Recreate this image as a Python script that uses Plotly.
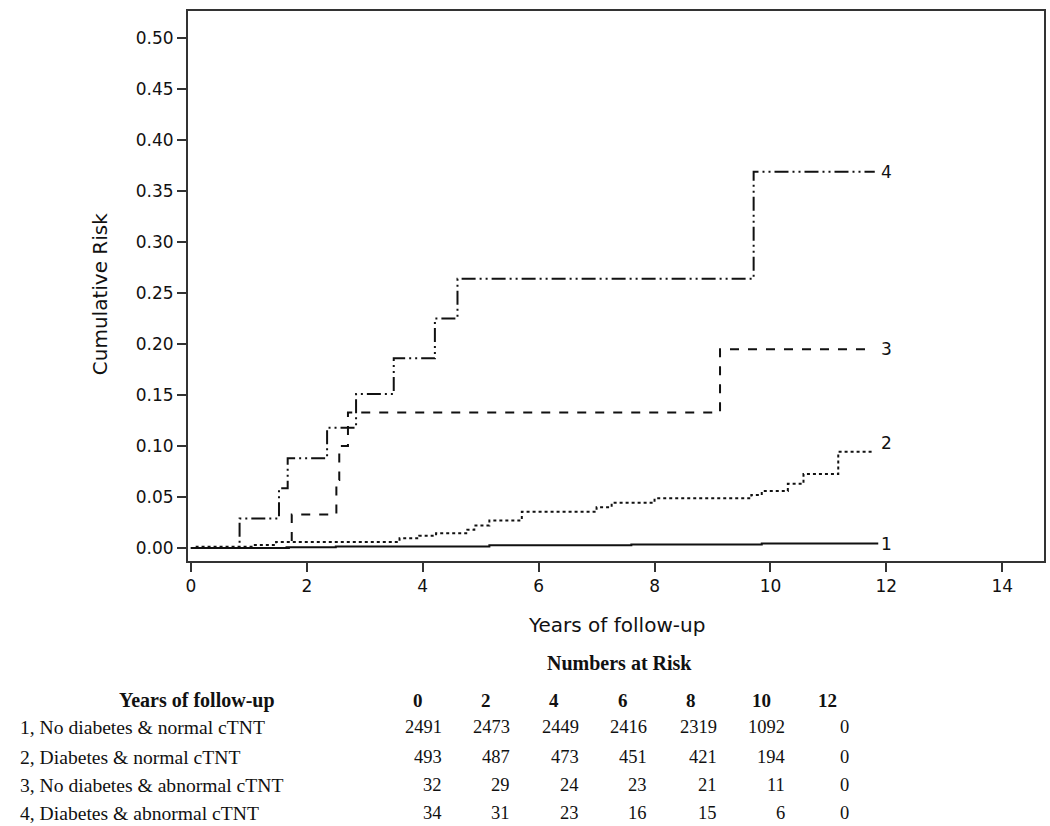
import plotly.graph_objects as go

# ---------------- data ----------------
t1 = [0, 1.65, 2.5, 5.15, 7.6, 9.85, 11.86]
r1 = [0, 0.0007, 0.0015, 0.0028, 0.0035, 0.0045, 0.0045]

t2 = [0, 0.1, 1.07, 1.47, 3.6, 3.94, 4.23, 4.77, 4.89, 5.15, 5.71, 7.0, 7.26, 8.0, 9.67, 9.85, 10.3, 10.57, 11.17, 11.77]
r2 = [0, 0.0013, 0.003, 0.006, 0.0095, 0.012, 0.0144, 0.018, 0.022, 0.027, 0.0356, 0.040, 0.0444, 0.0487, 0.052, 0.056, 0.063, 0.0725, 0.0944, 0.0944]

t3 = [0, 1.74, 2.51, 2.56, 2.71, 9.13, 11.74]
r3 = [0, 0.033, 0.0667, 0.100, 0.133, 0.195, 0.195]

t4 = [0, 0.84, 1.52, 1.67, 2.35, 2.85, 3.5, 4.21, 4.6, 9.71, 11.8]
r4 = [0, 0.029, 0.0585, 0.088, 0.118, 0.151, 0.186, 0.225, 0.264, 0.369, 0.369]

curve_labels = ["1", "2", "3", "4"]

risk_years = [0, 2, 4, 6, 8, 10, 12]
group_names = [
    "1, No diabetes & normal cTNT",
    "2, Diabetes & normal cTNT",
    "3, No diabetes & abnormal cTNT",
    "4, Diabetes & abnormal cTNT",
]
at_risk = [
    [2491, 2473, 2449, 2416, 2319, 1092, 0],
    [493, 487, 473, 451, 421, 194, 0],
    [32, 29, 24, 23, 21, 11, 0],
    [34, 31, 23, 16, 15, 6, 0],
]

# ---------------- figure ----------------
W, H = 1050, 826
L, R, T, B = 188, 1046, 11, 561  # plot box in pixels
INK = "#111111"

fig = go.Figure()
series = [(t1, r1, "solid"), (t2, r2, "dot"), (t3, r3, "dash"),
          (t4, r4, "14px,4px,2px,4px,2px,4px")]
for (t, r, d) in series:
    fig.add_trace(go.Scatter(x=t, y=r, mode="lines", line_shape="hv",
                             line=dict(color=INK, width=2, dash=d),
                             showlegend=False, hoverinfo="skip"))

label_offsets = [-0.001, 0.009, 0, 0]
for lab, (t, r, d), off in zip(curve_labels, series, label_offsets):
    fig.add_annotation(x=12.0, y=r[-1] + off, text=lab, showarrow=False,
                       xanchor="center", yanchor="middle",
                       font=dict(family="DejaVu Sans", size=17, color=INK))

axis_common = dict(showline=True, linecolor="#333333", linewidth=2, mirror=True,
                   ticks="outside", ticklen=9, tickwidth=2, tickcolor="#333333",
                   showgrid=False, zeroline=False,
                   tickfont=dict(family="DejaVu Sans", size=17, color=INK))
fig.update_xaxes(range=[-0.05, 14.72], tickvals=list(range(0, 15, 2)), **axis_common)
fig.update_yaxes(range=[-0.0127, 0.5265], tickvals=[i * 0.05 for i in range(11)],
                 tickformat=".2f", **axis_common)


def px(xp):
    return (xp - L) / (R - L)


def py(yp):
    return (B - yp) / (B - T)


# axis titles
fig.add_annotation(xref="paper", yref="paper", x=px(618), y=py(625),
                   text="Years of follow-up", showarrow=False,
                   xanchor="center", yanchor="middle",
                   font=dict(family="DejaVu Sans", size=20, color=INK))
fig.add_annotation(xref="paper", yref="paper", x=px(100), y=py(294),
                   text="Cumulative Risk", showarrow=False, textangle=-90,
                   xanchor="center", yanchor="middle",
                   font=dict(family="DejaVu Sans", size=20, color=INK))

# numbers at risk table
serif = "Liberation Serif"
fig.add_annotation(xref="paper", yref="paper", x=px(621), y=py(663),
                   text="<b>Numbers at Risk</b>", showarrow=False,
                   xanchor="center", yanchor="middle",
                   font=dict(family=serif, size=20, color=INK))
fig.add_annotation(xref="paper", yref="paper", x=px(197), y=py(700),
                   text="<b>Years of follow-up</b>", showarrow=False,
                   xanchor="center", yanchor="middle",
                   font=dict(family=serif, size=20, color=INK))
header_left = [412, 480, 548, 617, 685, 751, 817]
col_right = [445, 513, 582, 650, 720, 788, 853]
for yr, hx in zip(risk_years, header_left):
    fig.add_annotation(xref="paper", yref="paper", x=px(hx), y=py(700),
                       text="<b>%d</b>" % yr, showarrow=False,
                       xanchor="left", yanchor="middle",
                       font=dict(family=serif, size=19, color=INK))
row_y = [727, 757, 785, 813]
for name, counts, ry in zip(group_names, at_risk, row_y):
    fig.add_annotation(xref="paper", yref="paper", x=px(18), y=py(ry),
                       text=name.replace("&", "&amp;"), showarrow=False,
                       xanchor="left", yanchor="middle",
                       font=dict(family=serif, size=19.6, color=INK))
    for c, cx in zip(counts, col_right):
        fig.add_annotation(xref="paper", yref="paper", x=px(cx), y=py(ry),
                           text=str(c), showarrow=False,
                           xanchor="right", yanchor="middle",
                           font=dict(family=serif, size=18.5, color=INK))

fig.update_layout(width=W, height=H,
                  margin=dict(l=L, r=W - R, t=T, b=H - B, pad=0),
                  plot_bgcolor="white", paper_bgcolor="white")

fig.write_html("out.html", config={"displayModeBar": False},
               post_script="document.body.style.margin='0';"
                           "document.body.style.overflow='hidden';")
